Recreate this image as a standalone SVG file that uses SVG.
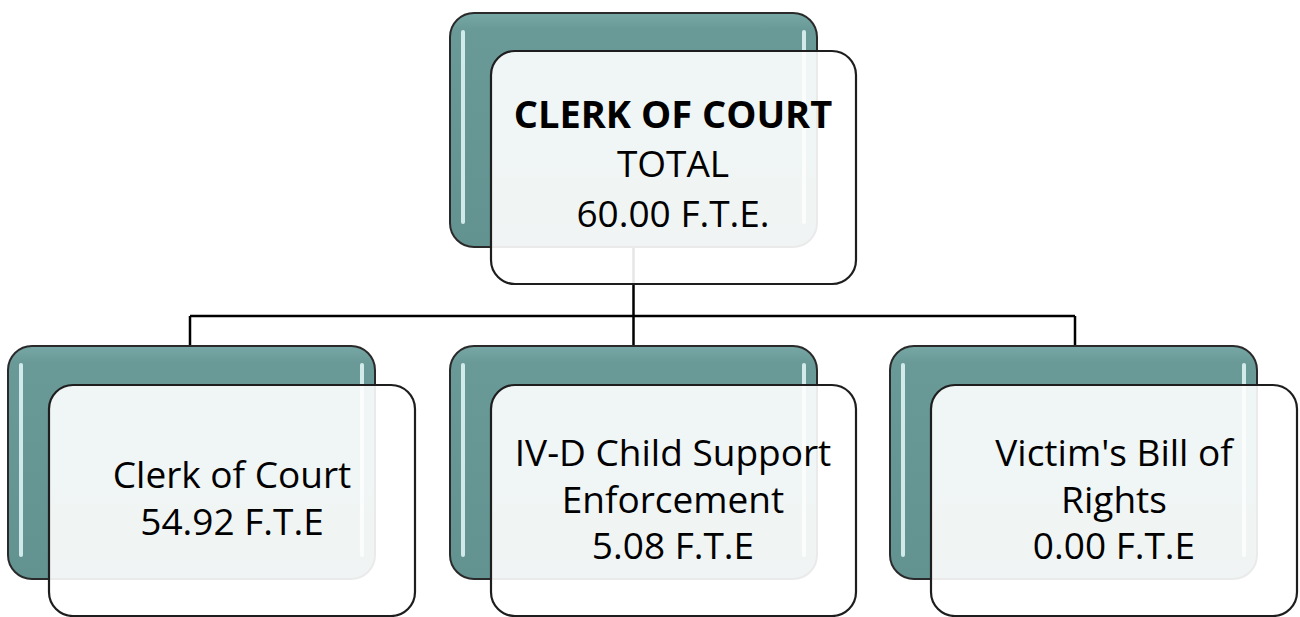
<svg xmlns="http://www.w3.org/2000/svg" width="1300" height="617" viewBox="0 0 1300 617">
<defs>
<linearGradient id="teal" x1="0" y1="0" x2="0" y2="1">
<stop offset="0" stop-color="#78a8a6"/>
<stop offset="0.07" stop-color="#6a9a98"/>
<stop offset="1" stop-color="#639391"/>
</linearGradient>
</defs>
<style>
.back{fill:url(#teal);stroke:#2a2a2a;stroke-width:2}
.hl{fill:#e4f8f8;opacity:0.85}
.front{fill:#ffffff;fill-opacity:0.9;stroke:#1e1e1e;stroke-width:2.2}
.conn{stroke:#000;stroke-width:2.5;fill:none}
text{font-family:"Open Sans","Liberation Sans",sans-serif;font-size:37px;fill:#000;text-anchor:middle}
.b{font-weight:bold;font-size:38px}
</style>
<rect width="1300" height="617" fill="#ffffff"/>
<g id="connectors">
<path class="conn" d="M633.5 247 V316 M190 316 H1075 M190 316 V348 M633.5 316 V348 M1075 316 V348"/>
</g>
<g id="node-total">
<rect class="back" x="450" y="13" width="367" height="234" rx="24"/>
<rect class="hl" x="461" y="30" width="4" height="194" rx="2"/>
<rect class="hl" x="802" y="30" width="4" height="194" rx="2"/>
<rect class="front" x="491" y="51" width="365" height="233" rx="24"/>
<text x="673" y="128"><tspan class="b">CLERK OF COURT</tspan><tspan x="673" dy="49">TOTAL</tspan><tspan x="673" dy="50">60.00 F.T.E.</tspan></text>
</g>
<g id="node-clerk">
<rect class="back" x="8" y="346" width="367" height="233" rx="24"/>
<rect class="hl" x="19" y="363" width="4" height="194" rx="2"/>
<rect class="hl" x="360" y="363" width="4" height="194" rx="2"/>
<rect class="front" x="49" y="385" width="366" height="231" rx="24"/>
<text x="232" y="488">Clerk of Court<tspan x="232" dy="47">54.92 F.T.E</tspan></text>
</g>
<g id="node-ivd">
<rect class="back" x="450" y="346" width="367" height="233" rx="24"/>
<rect class="hl" x="461" y="363" width="4" height="194" rx="2"/>
<rect class="hl" x="802" y="363" width="4" height="194" rx="2"/>
<rect class="front" x="491" y="385" width="365" height="231" rx="24"/>
<text x="673" y="466">IV-D Child Support<tspan x="673" dy="46.5">Enforcement</tspan><tspan x="673" dy="46.5">5.08 F.T.E</tspan></text>
</g>
<g id="node-victim">
<rect class="back" x="890" y="346" width="367" height="233" rx="24"/>
<rect class="hl" x="901" y="363" width="4" height="194" rx="2"/>
<rect class="hl" x="1242" y="363" width="4" height="194" rx="2"/>
<rect class="front" x="931" y="385" width="366" height="231" rx="24"/>
<text x="1114" y="466">Victim's Bill of<tspan x="1114" dy="46.5">Rights</tspan><tspan x="1114" dy="46.5">0.00 F.T.E</tspan></text>
</g>
</svg>
